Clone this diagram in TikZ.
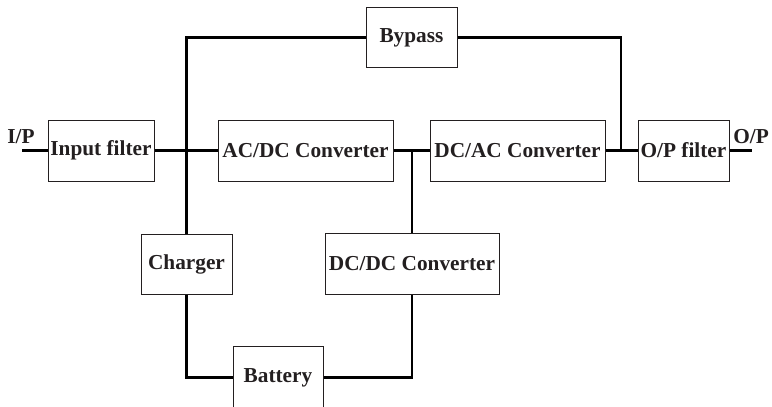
\documentclass[tikz,border=0pt]{standalone}
\usepackage{fontspec}
\setmainfont{Liberation Serif}
\definecolor{ink}{RGB}{35,31,32}
\begin{document}
\begin{tikzpicture}[x=1pt,y=-1pt,
  blk/.style={draw=ink,line width=1pt,rectangle,inner sep=0pt,text=ink,
    font=\fontsize{21.3}{24}\selectfont\bfseries},
  wire/.style={draw=black,line width=2.7pt,line cap=butt},
  lbl/.style={text=ink,inner sep=0pt,font=\fontsize{21.3}{24}\selectfont\bfseries}]
\clip (0,0) rectangle (772,407);
\node[blk,minimum width=106pt,minimum height=61pt] (inf) at (101,150.5) {Input filter};
\node[blk,minimum width=175pt,minimum height=61pt] (acdc) at (305.5,150.5) {AC/DC Converter};
\node[blk,minimum width=175pt,minimum height=61pt] (dcac) at (517.5,150.5) {DC/AC Converter};
\node[blk,minimum width=91pt,minimum height=61pt] (opf) at (683.5,150.5) {O/P filter};
\node[blk,minimum width=91pt,minimum height=60pt] (byp) at (411.5,37.5) {Bypass};
\node[blk,minimum width=91pt,minimum height=60pt] (chg) at (186.5,264) {Charger};
\node[blk,minimum width=174pt,minimum height=61pt] (dcdc) at (412,263.5) {DC/DC Converter};
\node[blk,minimum width=90pt,minimum height=63pt] (bat) at (278,377.5) {Battery};
\node[lbl] (ip) at (21,137) {I/P};
\node[lbl] (op) at (751,137) {O/P};
\coordinate (in) at (22,150.5);
\coordinate (out) at (752,150.5);
\coordinate (jo) at (621,150.5);
\draw[wire] (in) -- (inf.west);
\draw[wire] (inf.east) -- (acdc.west);
\draw[wire] (byp.west) -| (chg.north);
\draw[wire] (byp.east) -| (jo);
\draw[wire] (dcac.east) -- (opf.west);
\draw[wire] (opf.east) -- (out);
\draw[wire] (acdc.east) -- (dcac.west);
\draw[wire] (dcdc.north) -- (dcdc.north |- acdc.east);
\draw[wire] (chg.south) |- (bat.west);
\draw[wire] (bat.east) -| (dcdc.south);
\end{tikzpicture}
\end{document}
